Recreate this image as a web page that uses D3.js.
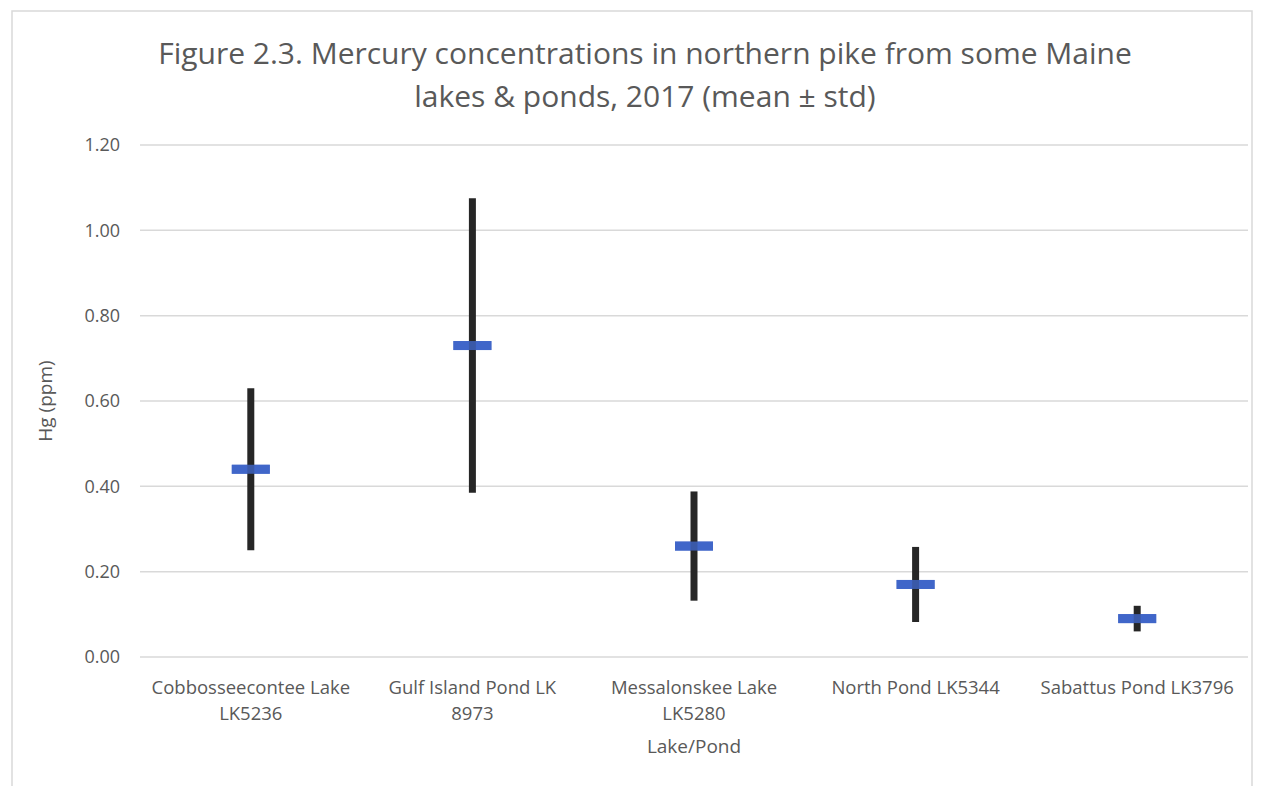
<!DOCTYPE html>
<html>
<head>
<meta charset="utf-8">
<script src="https://cdn.jsdelivr.net/npm/d3@7"></script>
<style>
  html, body { margin: 0; padding: 0; background: #fff; }
  svg { display: block; font-family: "Open Sans", sans-serif; }
</style>
</head>
<body>
<svg id="chart" width="1264" height="786"></svg>
<script>
// Lakes sampled, each label split across the lines it is printed on
const lakes = [
  ["Cobbosseecontee Lake", "LK5236"],
  ["Gulf Island Pond LK", "8973"],
  ["Messalonskee Lake", "LK5280"],
  ["North Pond LK5344"],
  ["Sabattus Pond LK3796"]
];
// Mean Hg concentration (ppm) and its standard deviation
const meanHg = [0.44, 0.73, 0.26, 0.17, 0.09];
const stdHg  = [0.19, 0.345, 0.128, 0.088, 0.03];
const yTicks = [0, 0.2, 0.4, 0.6, 0.8, 1.0, 1.2];

const titleLines = [
  "Figure 2.3. Mercury concentrations in northern pike from some Maine",
  "lakes & ponds, 2017 (mean \u00b1 std)"
];

const svg = d3.select("#chart");
const plot = { left: 140, right: 1248, top: 145, bottom: 657 };

// chart frame
svg.append("rect")
  .attr("x", 12).attr("y", 11)
  .attr("width", 1240).attr("height", 790)
  .attr("fill", "#fff").attr("stroke", "#d9d9d9").attr("stroke-width", 1.5);

const x = d3.scaleBand()
  .domain(lakes.map((d, i) => i))
  .range([plot.left, plot.right]);

const y = d3.scaleLinear()
  .domain([0, 1.2])
  .range([plot.bottom, plot.top]);

// horizontal gridlines
svg.append("g")
  .selectAll("line")
  .data(yTicks)
  .join("line")
  .attr("x1", plot.left).attr("x2", plot.right)
  .attr("y1", d => y(d)).attr("y2", d => y(d))
  .attr("stroke", "#d9d9d9").attr("stroke-width", 1.5);

// y axis labels
const yAxis = svg.append("g")
  .attr("transform", `translate(${plot.left},0)`)
  .call(d3.axisLeft(y).tickValues(yTicks).tickFormat(d3.format(".2f")).tickSize(0).tickPadding(20));
yAxis.select(".domain").remove();
yAxis.selectAll("text")
  .attr("fill", "#595959")
  .style("font-size", "18px")
  .style("font-family", "'Open Sans', sans-serif");

// x axis category labels
const xLabels = svg.append("g")
  .selectAll("text")
  .data(lakes)
  .join("text")
  .attr("x", (d, i) => x(i) + x.bandwidth() / 2)
  .attr("y", 694)
  .attr("text-anchor", "middle")
  .attr("fill", "#595959")
  .style("font-size", "18.5px");
xLabels.selectAll("tspan")
  .data(d => d)
  .join("tspan")
  .attr("x", function () { return d3.select(this.parentNode).attr("x"); })
  .attr("dy", (d, i) => i === 0 ? 0 : 26)
  .text(d => d);

// error bars: mean ± std
const cx = i => x(i) + x.bandwidth() / 2;
const marks = svg.append("g");
marks.selectAll("rect.marker")
  .data(meanHg)
  .join("rect")
  .attr("class", "marker")
  .attr("x", (d, i) => cx(i) - 19)
  .attr("y", d => y(d) - 4.5)
  .attr("width", 38).attr("height", 9)
  .attr("fill", "#4066c9");
marks.selectAll("line.err")
  .data(meanHg)
  .join("line")
  .attr("class", "err")
  .attr("x1", (d, i) => cx(i)).attr("x2", (d, i) => cx(i))
  .attr("y1", (d, i) => y(d + stdHg[i]))
  .attr("y2", (d, i) => y(d - stdHg[i]))
  .attr("stroke", "#262626").attr("stroke-width", 7);
// marker redrawn with partial opacity so the bar shows through its centre
marks.selectAll("rect.overlay")
  .data(meanHg)
  .join("rect")
  .attr("class", "overlay")
  .attr("x", (d, i) => cx(i) - 19)
  .attr("y", d => y(d) - 4.5)
  .attr("width", 38).attr("height", 9)
  .attr("fill", "#4066c9").attr("opacity", 0.8);

// title
svg.append("text")
  .attr("x", 645).attr("y", 64)
  .attr("text-anchor", "middle")
  .attr("fill", "#595959")
  .style("font-size", "30px")
  .selectAll("tspan")
  .data(titleLines)
  .join("tspan")
  .attr("x", 645)
  .attr("dy", (d, i) => i === 0 ? 0 : 43)
  .text(d => d);

// axis titles
svg.append("text")
  .attr("x", 694).attr("y", 753)
  .attr("text-anchor", "middle")
  .attr("fill", "#595959")
  .style("font-size", "19px")
  .text("Lake/Pond");

svg.append("text")
  .attr("transform", "translate(52,401) rotate(-90)")
  .attr("text-anchor", "middle")
  .attr("fill", "#595959")
  .style("font-size", "19px")
  .text("Hg (ppm)");
</script>
</body>
</html>
